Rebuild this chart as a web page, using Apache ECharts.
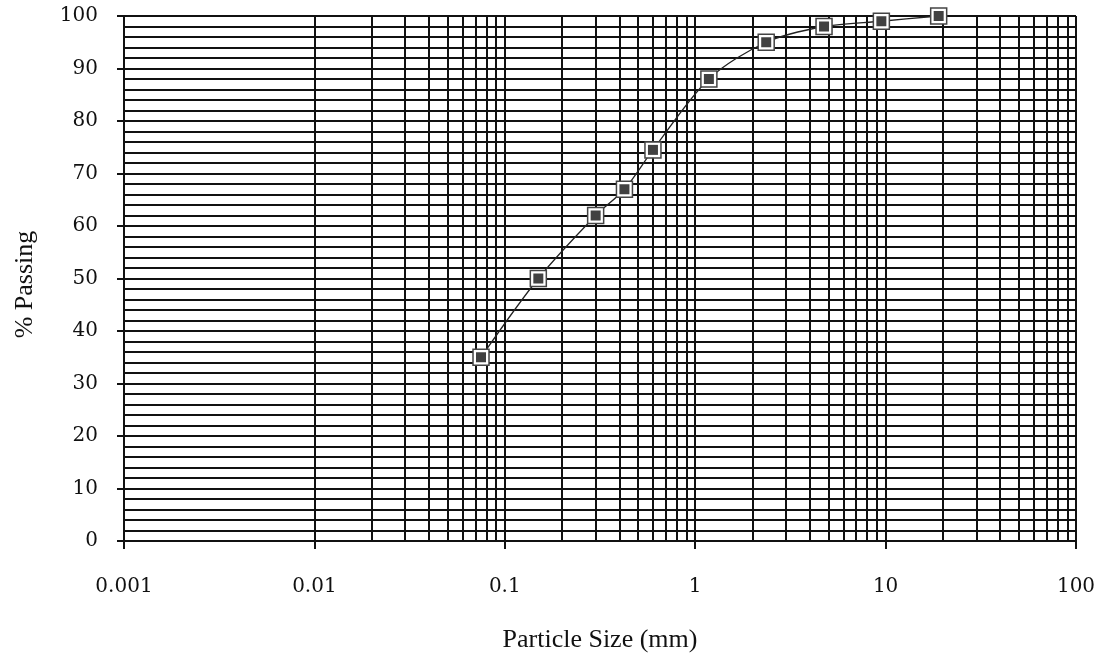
<!DOCTYPE html>
<html>
<head>
<meta charset="utf-8">
<script src="https://cdn.jsdelivr.net/npm/echarts@6/dist/echarts.min.js"></script>
<style>
html,body{margin:0;padding:0;background:#fff;}
#chart{width:1099px;height:658px;}
</style>
</head>
<body>
<div id="chart"></div>
<script>
// Data
var particleSize = [0.075, 0.15, 0.3, 0.425, 0.6, 1.18, 2.36, 4.75, 9.5, 19];
var percentPassing = [35, 50, 62, 67, 74.5, 88, 95, 98, 99, 100];
var xTickLabels = ['0.001', '0.01', '0.1', '1', '10', '100'];
var decades = [0.001, 0.01, 0.1, 1, 10];
var minorMultipliers = [2, 3, 4, 5, 6, 7, 8, 9];

var gridValues = [];
decades.forEach(function (d) {
  minorMultipliers.forEach(function (m) { gridValues.push(+(d * m).toPrecision(3)); });
});

var points = particleSize.map(function (s, i) { return [s, percentPassing[i]]; });

var chart = echarts.init(document.getElementById('chart'), null, {renderer: 'canvas'});
var lineCol = '#111';
var option = {
  backgroundColor: '#fff',
  animation: false,
  grid: {left: 124, right: 23, top: 16, bottom: 112, containLabel: false},
  xAxis: {
    type: 'log', logBase: 10, min: 0.001, max: 100,
    name: 'Particle Size (mm)', nameLocation: 'middle', nameGap: 86,
    nameTextStyle: {fontFamily: 'Liberation Serif', fontSize: 26, color: '#111'},
    axisLine: {show: true, onZero: false, lineStyle: {color: lineCol, width: 2}},
    axisTick: {show: true, length: 8, lineStyle: {color: lineCol, width: 2}},
    minorTick: {show: false},
    splitLine: {show: true, lineStyle: {color: lineCol, width: 2}},
    axisLabel: {
      margin: 36, fontFamily: 'DejaVu Serif', fontSize: 20, color: '#111',
      formatter: function (v) {
        var i = Math.round(Math.log10(v)) + 3;
        return xTickLabels[i] !== undefined ? xTickLabels[i] : '';
      }
    }
  },
  yAxis: {
    type: 'value', min: 0, max: 100, interval: 10,
    name: '% Passing', nameLocation: 'middle', nameGap: 86,
    nameTextStyle: {fontFamily: 'Liberation Serif', fontSize: 26, color: '#111', padding: [0, 12, 0, 0]},
    axisLine: {show: true, lineStyle: {color: lineCol, width: 2}},
    axisTick: {show: true, length: 7, lineStyle: {color: lineCol, width: 2}},
    minorTick: {show: false, splitNumber: 5},
    splitLine: {show: true, lineStyle: {color: lineCol, width: 2}},
    minorSplitLine: {show: true, lineStyle: {color: lineCol, width: 2}},
    axisLabel: {margin: 26, fontFamily: 'DejaVu Serif', fontSize: 20, color: '#111'}
  },
  series: [
    {
      type: 'line',
      data: points,
      smooth: 0.3,
      symbol: 'rect', symbolSize: 16,
      lineStyle: {color: '#222', width: 1.3},
      itemStyle: {color: '#fff', borderColor: '#444', borderWidth: 1.5},
      z: 10,
      markLine: {
        silent: true, symbol: 'none', label: {show: false},
        lineStyle: {type: 'solid', color: lineCol, width: 2},
        data: gridValues.map(function (v) { return {xAxis: v}; }),
        z: 1
      }
    },
    {
      type: 'scatter',
      data: points,
      symbol: 'rect', symbolSize: 10,
      itemStyle: {color: '#111'},
      z: 11
    }
  ]
};
chart.setOption(option);
</script>
</body>
</html>
